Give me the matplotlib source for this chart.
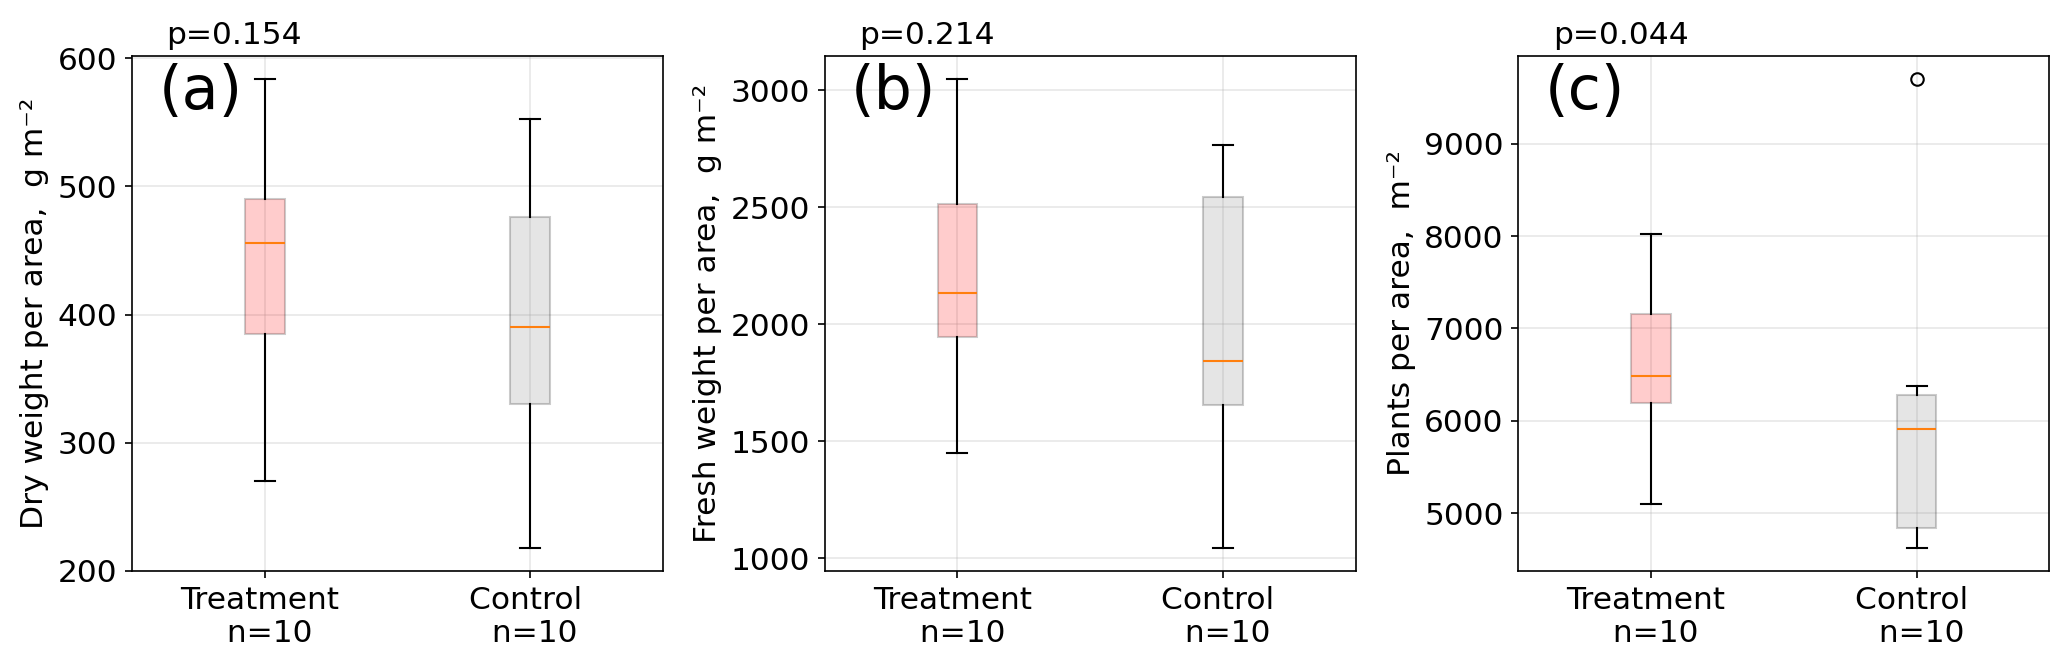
import matplotlib
matplotlib.use("Agg")
import matplotlib.pyplot as plt

groups = ["Treatment", "Control"]
n_counts = [10, 10]

# five-number summaries: whislo, q1, median, q3, whishi
dry_treat = [270, 385, 456, 490, 584]
dry_ctrl = [218, 330, 390, 476, 553]
fresh_treat = [1448, 1946, 2133, 2514, 3049]
fresh_ctrl = [1045, 1656, 1843, 2545, 2766]
plants_treat = [5096, 6187, 6484, 7155, 8022]
plants_ctrl = [4626, 4836, 5913, 6274, 6379]
plants_ctrl_fliers = [9703]

p_values = ["p=0.154", "p=0.214", "p=0.044"]
panel_tags = ["(a)", "(b)", "(c)"]
ylabels = ["Dry weight per area,  g m\u207b\u00b2",
           "Fresh weight per area,  g m\u207b\u00b2",
           "Plants per area,  m\u207b\u00b2"]

panels = [
    (dry_treat, dry_ctrl, [], []),
    (fresh_treat, fresh_ctrl, [], []),
    (plants_treat, plants_ctrl, [], plants_ctrl_fliers),
]

def stats(vals, label, fliers):
    lo, q1, med, q3, hi = vals
    return dict(whislo=lo, q1=q1, med=med, q3=q3, whishi=hi, fliers=fliers, label=label)

DPI = 150
fig = plt.figure(figsize=(2067 / DPI, 663 / DPI), dpi=DPI)
lefts = [132 / 2067, 824.7 / 2067, 1518.3 / 2067]
w = 531 / 2067
top_px, bot_px = 55.5, 571
b = 1 - bot_px / 663
h = (bot_px - top_px) / 663

TICK_FS = 15
face_colors = [(1, 0, 0), (0.5, 0.5, 0.5)]
xt_labels = [f"{g} \n n={n}" for g, n in zip(groups, n_counts)]

for i, (tr, ct, fl_t, fl_c) in enumerate(panels):
    ax = fig.add_axes([lefts[i], b, w, h])
    st = [stats(tr, xt_labels[0], fl_t), stats(ct, xt_labels[1], fl_c)]
    bp = ax.bxp(st, positions=[1, 2], widths=0.15, patch_artist=True,
                showfliers=True,
                medianprops=dict(color="C1"),
                whiskerprops=dict(color="black"),
                capprops=dict(color="black"),
                flierprops=dict(marker="o", markerfacecolor="none",
                                markeredgecolor="black"))
    for patch, fc in zip(bp["boxes"], face_colors):
        patch.set_facecolor(fc)
        patch.set_edgecolor("black")
        patch.set_alpha(0.2)
    ax.set_xlim(0.5, 2.5)
    ax.grid(True, alpha=0.3)
    ax.set_axisbelow(True)
    ax.tick_params(axis="both", labelsize=TICK_FS)
    ax.set_ylabel(ylabels[i], fontsize=15)
    ax.text(0.05, 0.985, panel_tags[i], transform=ax.transAxes,
            fontsize=29, va="top", ha="left")
    ax.text(0.065, 1.01, p_values[i], transform=ax.transAxes,
            fontsize=TICK_FS, va="bottom", ha="left")

fig.savefig("out.png", dpi=DPI)
